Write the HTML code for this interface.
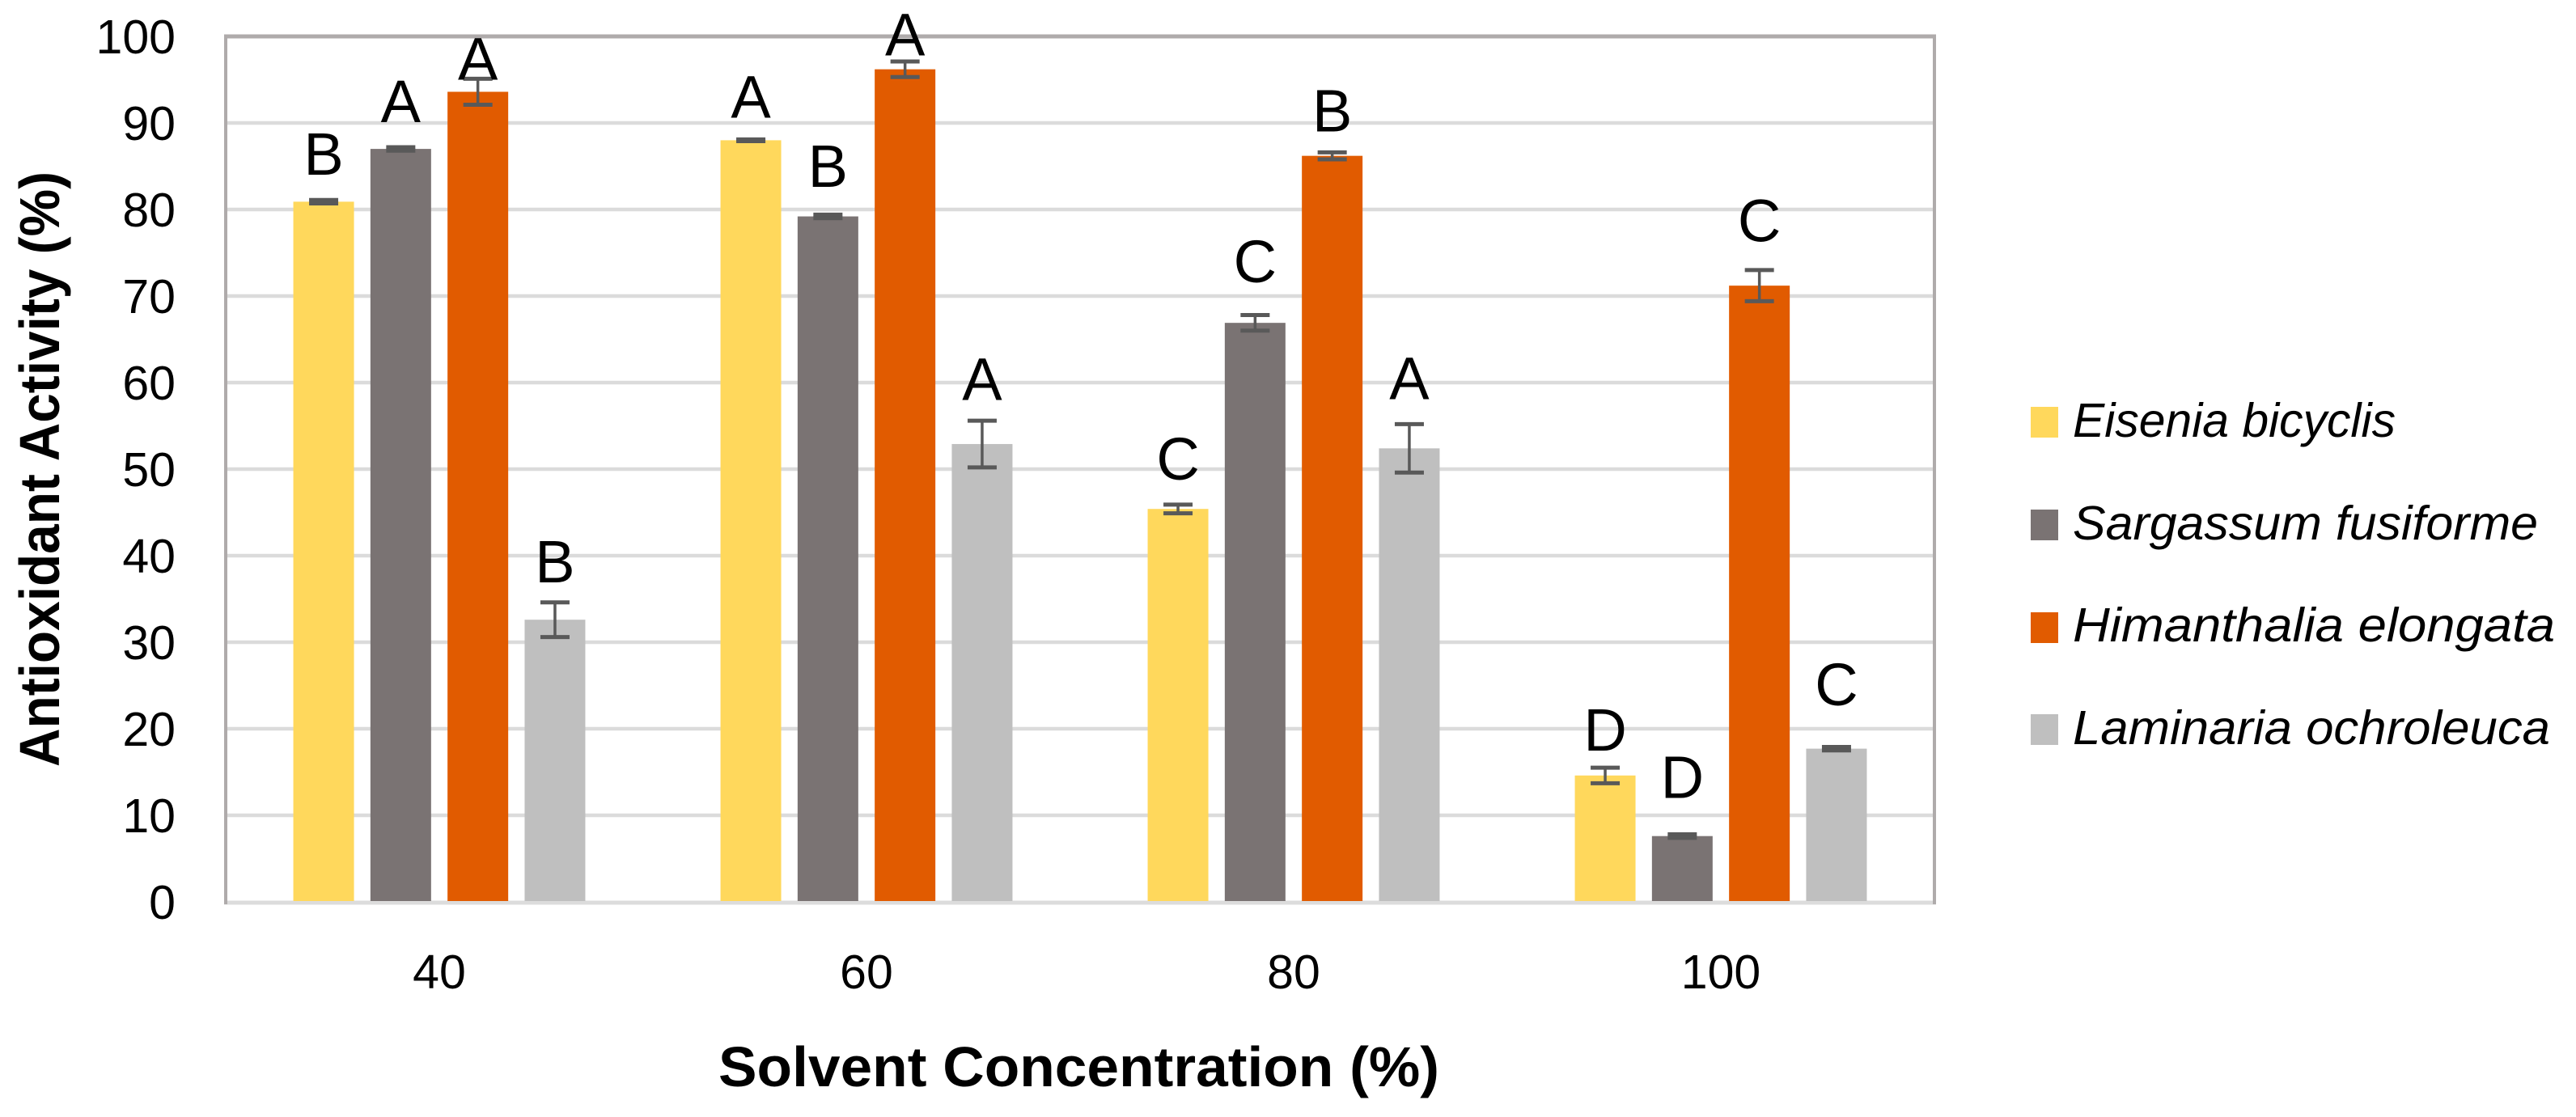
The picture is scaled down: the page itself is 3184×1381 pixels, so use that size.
<!DOCTYPE html>
<html lang="en">
<head>
<meta charset="utf-8">
<title>Antioxidant Activity by Solvent Concentration</title>
<style>
  html, body { margin: 0; padding: 0; background: #fff; }
  body { width: 3184px; height: 1381px; overflow: hidden; }
  svg { display: block; }
  text { font-family: "Liberation Sans", sans-serif; fill: #000; }
</style>
</head>
<body>
<svg id="chart" xmlns="http://www.w3.org/2000/svg" width="3184" height="1381" viewBox="0 0 3184 1381">
  <g id="grid"></g>
  <g id="frame"></g>
  <g id="bars"></g>
  <g id="errors"></g>
  <g id="letters"></g>
  <g id="yticks"></g>
  <g id="xticks"></g>

  <text transform="translate(73,948) rotate(-90)" font-size="70" font-weight="700" textLength="736" lengthAdjust="spacingAndGlyphs">Antioxidant Activity (%)</text>
  <text x="888" y="1343" font-size="70" font-weight="700" textLength="891" lengthAdjust="spacingAndGlyphs">Solvent Concentration (%)</text>

  <g>
    <g>
      <rect x="2510" y="503" width="34" height="38" fill="#FFD85C"></rect>
      <text x="2562" y="540" font-size="59" font-style="italic" textLength="399" lengthAdjust="spacingAndGlyphs">Eisenia bicyclis</text>
    </g>
    <g>
      <rect x="2510" y="630" width="34" height="38" fill="#7A7373"></rect>
      <text x="2562" y="667" font-size="59" font-style="italic" textLength="575" lengthAdjust="spacingAndGlyphs">Sargassum fusiforme</text>
    </g>
    <g>
      <rect x="2510" y="757" width="34" height="38" fill="#E15B00"></rect>
      <text x="2562" y="793" font-size="59" font-style="italic" textLength="596" lengthAdjust="spacingAndGlyphs">Himanthalia elongata</text>
    </g>
    <g>
      <rect x="2510" y="883" width="34" height="38" fill="#BFBFBF"></rect>
      <text x="2562" y="920" font-size="59" font-style="italic" textLength="590" lengthAdjust="spacingAndGlyphs">Laminaria ochroleuca</text>
    </g>
  </g>
</svg>

<script>
// Chart data, one entry per solvent concentration
const categories = ["40", "60", "80", "100"];
const yTickLabels = [0, 10, 20, 30, 40, 50, 60, 70, 80, 90, 100];

const eiseniaValues = [80.9, 88.0, 45.4, 14.6];
const sargassumValues = [87.0, 79.2, 66.9, 7.6];
const himanthaliaValues = [93.6, 96.2, 86.2, 71.2];
const laminariaValues = [32.6, 52.9, 52.4, 17.7];

const eiseniaErrors = [0.2, 0.1, 0.5, 0.9];
const sargassumErrors = [0.2, 0.2, 0.9, 0.2];
const himanthaliaErrors = [1.5, 0.9, 0.4, 1.8];
const laminariaErrors = [2.0, 2.7, 2.8, 0.2];

const eiseniaLetters = ["B", "A", "C", "D"];
const sargassumLetters = ["A", "B", "C", "D"];
const himanthaliaLetters = ["A", "A", "B", "C"];
const laminariaLetters = ["B", "A", "A", "C"];

// Height of each letter above its error bar, in axis units
const eiseniaLetterLift = [2.9, 2.5, 2.9, 2.0];
const sargassumLetterLift = [2.9, 3.2, 3.8, 4.2];
const himanthaliaLetterLift = [-0.1, 0.7, 2.4, 3.3];
const laminariaLetterLift = [2.3, 2.4, 2.9, 4.8];

const seriesKeys = ["eisenia", "sargassum", "himanthalia", "laminaria"];
const seriesValues = [eiseniaValues, sargassumValues, himanthaliaValues, laminariaValues];
const seriesErrors = [eiseniaErrors, sargassumErrors, himanthaliaErrors, laminariaErrors];
const seriesLetters = [eiseniaLetters, sargassumLetters, himanthaliaLetters, laminariaLetters];
const seriesLetterLift = [eiseniaLetterLift, sargassumLetterLift, himanthaliaLetterLift, laminariaLetterLift];
const seriesColors = ["#FFD85C", "#7A7373", "#E15B00", "#BFBFBF"];

// Axis functions
const plotLeft = 279, plotRight = 2391, plotTop = 45, plotBottom = 1115;
const yMax = 100;
const barStep = 95.3, barWidth = 75;
function yScale(v) { return plotBottom - (v / yMax) * (plotBottom - plotTop); }
function xBand(i) { return plotLeft + (plotRight - plotLeft) / categories.length * (i + 0.5); }
function xBar(i, s) { return xBand(i) + (s - (seriesKeys.length - 1) / 2) * barStep; }

const NS = "http://www.w3.org/2000/svg";
function make(parent, tag, props, content) {
  const el = document.createElementNS(NS, tag);
  for (const k in props) el.setAttribute(k, props[k]);
  if (content !== undefined) el.textContent = content;
  parent.appendChild(el);
  return el;
}
const $ = id => document.getElementById(id);

// Gridlines and y tick labels
yTickLabels.forEach(function (t) {
  const y = yScale(t);
  if (t !== 0 && t !== yMax) {
    const g = make($("grid"), "line", { x1: plotLeft, x2: plotRight, y1: y, y2: y, stroke: "#DBDBDB", "stroke-width": 4.5 });
    
    
  }
  const lab = make($("yticks"), "text", { x: 217, y: y + 21, "font-size": 59, "text-anchor": "end" }, String(t));
  
  
});

// Plot frame
const frameBottom = make($("frame"), "line", { x1: plotLeft - 2, x2: plotRight + 2, y1: yScale(0) + 1, y2: yScale(0) + 1, stroke: "#DCDCDC", "stroke-width": 5 });


const frameTop = make($("frame"), "line", { x1: plotLeft - 2, x2: plotRight + 2, y1: yScale(yMax), y2: yScale(yMax), stroke: "#AFABAB", "stroke-width": 5 });


const frameLeft = make($("frame"), "line", { x1: plotLeft, x2: plotLeft, y1: yScale(yMax), y2: yScale(0) + 3, stroke: "#AFABAB", "stroke-width": 4 });


const frameRight = make($("frame"), "line", { x1: plotRight, x2: plotRight, y1: yScale(yMax), y2: yScale(0) + 3, stroke: "#AFABAB", "stroke-width": 4 });



// X tick labels
categories.forEach(function (c, i) {
  const lab = make($("xticks"), "text", { x: xBand(i), y: 1222, "font-size": 59, "text-anchor": "middle" }, c);
  
  
});

// Bars, error bars, significance letters
seriesKeys.forEach(function (key, s) {
  categories.forEach(function (c, i) {
    const v = seriesValues[s][i];
    const e = seriesErrors[s][i];
    const cx = xBar(i, s);

    const bar = make($("bars"), "rect", {
      x: cx - barWidth / 2,
      y: yScale(v),
      width: barWidth,
      height: yScale(0) - yScale(v) - 1,
      fill: seriesColors[s]
    });
    
    

    const eg = make($("errors"), "g", { stroke: "#595959", fill: "none" });
    
    
    make(eg, "line", { x1: cx, x2: cx, y1: yScale(v + e), y2: yScale(v - e), "stroke-width": 3.5 });
    make(eg, "line", { x1: cx - 18, x2: cx + 18, y1: yScale(v + e), y2: yScale(v + e), "stroke-width": 5 });
    make(eg, "line", { x1: cx - 18, x2: cx + 18, y1: yScale(v - e), y2: yScale(v - e), "stroke-width": 5 });

    const letter = make($("letters"), "text", {
      x: cx,
      y: yScale(v + e + seriesLetterLift[s][i]),
      "font-size": 74,
      "text-anchor": "middle"
    }, seriesLetters[s][i]);
    
    
  });
});
</script>
</body>
</html>
